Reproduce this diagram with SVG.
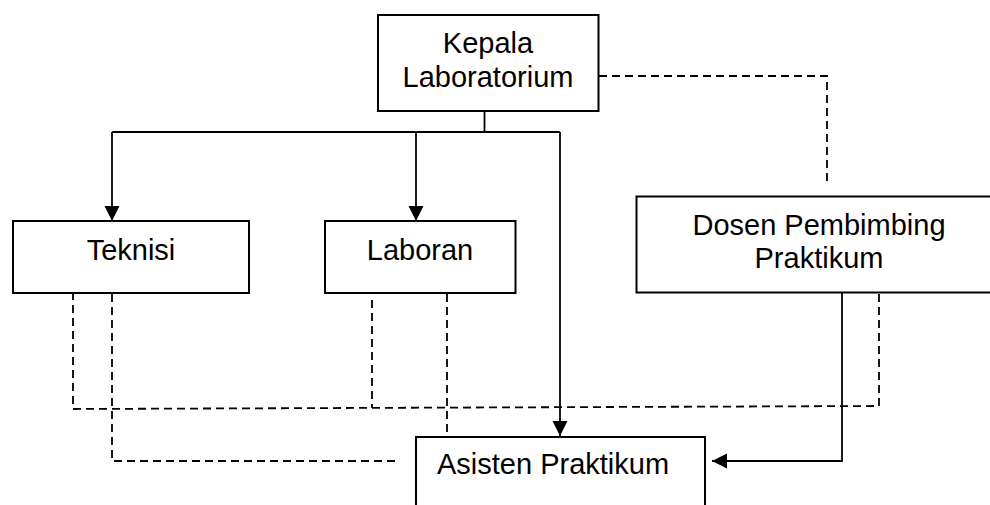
<svg xmlns="http://www.w3.org/2000/svg" width="990" height="505" viewBox="0 0 990 505">
<style>
.box{fill:#fff;stroke:#000;stroke-width:2}
.lbl{font-family:"Liberation Sans",Arial,sans-serif;font-size:29px;fill:#000}
.solid{fill:none;stroke:#000;stroke-width:1.8}
.dash{fill:none;stroke:#000;stroke-width:1.8;stroke-dasharray:8,5}
</style>
<defs>
<marker id="arr" markerUnits="userSpaceOnUse" markerWidth="16" markerHeight="16" viewBox="0 0 16 16" refX="15" refY="8" orient="auto">
<path d="M0,0.5 L15,8 L0,15.5 Z" fill="#000"/>
</marker>
</defs>
<g id="connectors">
<path class="solid" d="M484.5,111 V132"/>
<path class="solid" d="M112,132 H560"/>
<path class="solid" d="M112,132 V221" marker-end="url(#arr)"/>
<path class="solid" d="M416,132 V221" marker-end="url(#arr)"/>
<path class="solid" d="M560,132 V436" marker-end="url(#arr)"/>
<path class="solid" d="M842,293 V461 H712" marker-end="url(#arr)"/>
<path class="dash" d="M599,76 H827 V182"/>
<path class="dash" d="M879,294 V406 L73,409 V294"/>
<path class="dash" d="M112,294 V461 H397"/>
<path class="dash" d="M372,300 V408"/>
<path class="dash" d="M447,294 V437"/>
</g>
<g id="kepala">
<rect class="box" x="378" y="15" width="220.5" height="96"/>
<text class="lbl" x="488" y="53" text-anchor="middle">Kepala</text>
<text class="lbl" x="488" y="87" text-anchor="middle">Laboratorium</text>
</g>
<g id="teknisi">
<rect class="box" x="13" y="221" width="236" height="72"/>
<text class="lbl" x="131" y="260" text-anchor="middle">Teknisi</text>
</g>
<g id="laboran">
<rect class="box" x="325" y="221" width="190.5" height="72"/>
<text class="lbl" x="420" y="260" text-anchor="middle">Laboran</text>
</g>
<g id="dosen">
<rect class="box" x="636.5" y="196.5" width="366" height="96"/>
<text class="lbl" x="819" y="235" text-anchor="middle">Dosen Pembimbing</text>
<text class="lbl" x="819" y="268" text-anchor="middle">Praktikum</text>
</g>
<g id="asisten">
<rect class="box" x="416" y="437" width="289" height="90"/>
<text class="lbl" x="437" y="474">Asisten Praktikum</text>
</g>
</svg>
